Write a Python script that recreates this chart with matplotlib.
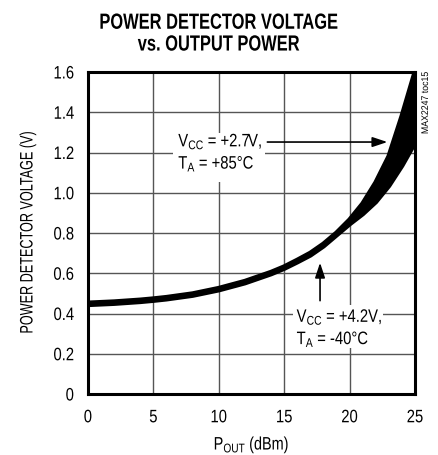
import matplotlib
matplotlib.use("Agg")
import matplotlib.pyplot as plt
from matplotlib.patheffects import AbstractPathEffect
from matplotlib.transforms import Affine2D
from matplotlib.patches import Rectangle

plt.rcParams['font.family'] = ['Liberation Sans', 'DejaVu Sans']
plt.rcParams['mathtext.default'] = 'regular'


class Condense(AbstractPathEffect):
    """Narrow the glyphs horizontally (condensed look), keeping alignment."""
    def __init__(self, s, frac=0.0):
        super().__init__(offset=(0, 0))
        self.s = s
        self.frac = frac

    def draw_path(self, renderer, gc, tpath, affine, rgbFace=None):
        if len(tpath.vertices) == 0:
            return
        w = tpath.get_extents().x1
        shift = (1 - self.s) * w * self.frac
        t = Affine2D().scale(self.s, 1).translate(shift, 0) + affine
        renderer.draw_path(gc, tpath, t, rgbFace)


# Data
pout = [0, 2, 4, 5, 6, 8, 10, 12, 14, 15, 16, 17, 18, 19, 20, 21, 22, 23, 24, 25]
v_hi = [0.452, 0.458, 0.467, 0.473, 0.480, 0.498, 0.525, 0.560, 0.605, 0.632,
        0.665, 0.700, 0.745, 0.800, 0.865, 0.945, 1.050, 1.180, 1.380, 1.600]
v_lo = [0.444, 0.450, 0.459, 0.465, 0.472, 0.490, 0.517, 0.552, 0.597, 0.624,
        0.656, 0.690, 0.735, 0.790, 0.845, 0.895, 0.955, 1.035, 1.135, 1.250]
xticks = [0, 5, 10, 15, 20, 25]
yticks = [0, 0.2, 0.4, 0.6, 0.8, 1.0, 1.2, 1.4, 1.6]
yticklabels = ["0", "0.2", "0.4", "0.6", "0.8", "1.0", "1.2", "1.4", "1.6"]

fig = plt.figure(figsize=(4.38, 4.55), dpi=100)
ax = fig.add_axes([88/438, 1-394/455, 327/438, 322/455])
ax.set_xlim(0, 25)
ax.set_ylim(0, 1.6)
ax.set_xticks(xticks)
ax.set_yticks(yticks)
ax.set_yticklabels(yticklabels)
ax.tick_params(length=0, labelsize=13, pad=11)
ax.tick_params(axis='y', pad=10)
for t in ax.get_xticklabels():
    t.set_path_effects([Condense(0.82, 0.5)])
for t in ax.get_yticklabels():
    t.set_path_effects([Condense(0.82, 1.0)])
ax.grid(True, color='#555555', linewidth=1.0)
ax.set_axisbelow(True)
for s in ax.spines.values():
    s.set_linewidth(2.2)
    s.set_color('black')
    s.set_zorder(6)

ax.fill_between(pout, v_lo, v_hi, color='black', zorder=3, linewidth=0)
ax.plot(pout, v_hi, color='black', linewidth=3.6, zorder=3, solid_capstyle='butt')
ax.plot(pout, v_lo, color='black', linewidth=3.6, zorder=3, solid_capstyle='butt')

# white backgrounds behind the annotation labels
ax.add_patch(Rectangle((6.5, 1.053), 7.0, 0.244, facecolor='white', edgecolor='none', zorder=2.5))
ax.add_patch(Rectangle((15.67, 0.229), 6.88, 0.213, facecolor='white', edgecolor='none', zorder=2.5))

t1 = ax.text(6.9, 1.20, "V$_{CC}$ = +2.7V,\nT$_A$ = +85°C", fontsize=13, ha='left', va='center',
             zorder=4, linespacing=1.15)
t1.set_path_effects([Condense(0.82, 0.0)])
ax.annotate("", xy=(23.1, 1.252), xytext=(13.5, 1.252),
            arrowprops=dict(arrowstyle='-|>,head_length=0.9,head_width=0.3', color='black', lw=1.2),
            zorder=5)
t2 = ax.text(15.95, 0.328, "V$_{CC}$ = +4.2V,\nT$_A$ = -40°C", fontsize=13, ha='left', va='center',
             zorder=4, linespacing=1.15)
t2.set_path_effects([Condense(0.82, 0.0)])
ax.annotate("", xy=(17.74, 0.666), xytext=(17.74, 0.45),
            arrowprops=dict(arrowstyle='-|>,head_length=0.9,head_width=0.3', color='black', lw=1.2),
            zorder=5)

xl = ax.set_xlabel("P$_{OUT}$ (dBm)", fontsize=13, labelpad=6)
xl.set_path_effects([Condense(0.8, 0.5)])
yl = ax.set_ylabel("POWER DETECTOR VOLTAGE (V)", fontsize=13, labelpad=9)
yl.set_path_effects([Condense(0.7, 0.5)])

tt = fig.text(0.5, 0.972, "POWER DETECTOR VOLTAGE\nvs. OUTPUT POWER", ha='center', va='top',
              fontsize=15.8, fontweight='bold', linespacing=1.05)
tt.set_path_effects([Condense(0.75, 0.5)])
st = fig.text(425/438, 1-103/455, "MAX2247 toc15", rotation=90, ha='center', va='center', fontsize=7)
st.set_path_effects([Condense(0.9, 0.5)])

fig.savefig("out.png", dpi=100)
